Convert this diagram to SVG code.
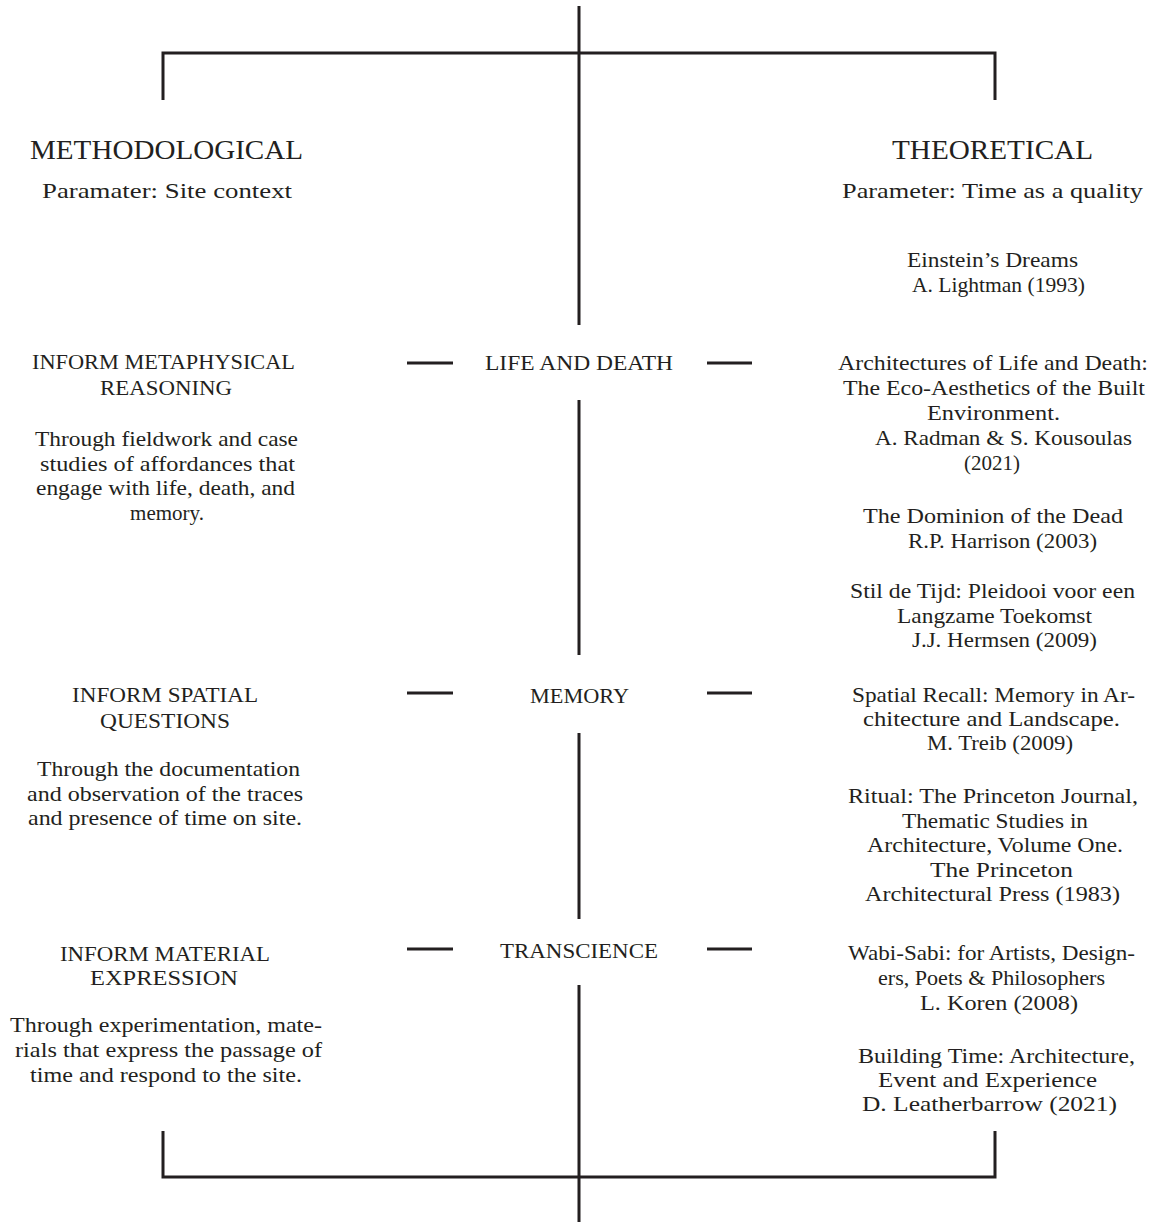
<svg xmlns="http://www.w3.org/2000/svg" width="1159" height="1222" viewBox="0 0 1159 1222">
<style>
  text { font-family: "Liberation Serif", "DejaVu Serif", serif; fill: #231f20; }
  .h { font-size: 27px; }
  .p { font-size: 22px; }
  .c { font-size: 20px; }
  .b { font-size: 21px; }
  .m { text-anchor: middle; }
  .ln { stroke: #231f20; stroke-width: 3; fill: none; stroke-linecap: butt; }
</style>
<rect width="1159" height="1222" fill="#ffffff"/>
<g id="connectors">
  <path class="ln" d="M579 6V325M579 400V655M579 733V919M579 985V1222"/>
  <path class="ln" d="M163 100V53H995V100"/>
  <path class="ln" d="M163 1131V1177H995V1131"/>
  <path class="ln" d="M407 363H453M707 363H752M407 693H453M707 693H752M407 949H453M707 949H752"/>
</g>
<g id="methodological">
  <text class="h" x="30" y="159" textLength="273" lengthAdjust="spacingAndGlyphs">METHODOLOGICAL</text>
  <text class="p" x="42" y="198" textLength="250" lengthAdjust="spacingAndGlyphs">Paramater: Site context</text>
</g>
<g id="theoretical">
  <text class="h" x="892" y="159" textLength="201" lengthAdjust="spacingAndGlyphs">THEORETICAL</text>
  <text class="p" x="842" y="198" textLength="301" lengthAdjust="spacingAndGlyphs">Parameter: Time as a quality</text>
</g>
<g id="ref-einstein">
  <text class="b" x="907" y="267" textLength="171" lengthAdjust="spacingAndGlyphs">Einstein’s Dreams</text>
  <text class="b" x="912" y="292" textLength="173" lengthAdjust="spacingAndGlyphs">A. Lightman (1993)</text>
</g>
<g id="inform-metaphysical">
  <text class="c" x="32" y="369" textLength="263" lengthAdjust="spacingAndGlyphs">INFORM METAPHYSICAL</text>
  <text class="c" x="100" y="395" textLength="132" lengthAdjust="spacingAndGlyphs">REASONING</text>
  <text class="b" x="35" y="446" textLength="263" lengthAdjust="spacingAndGlyphs">Through fieldwork and case</text>
  <text class="b" x="40" y="470.5" textLength="255" lengthAdjust="spacingAndGlyphs">studies of affordances that</text>
  <text class="b" x="36" y="495" textLength="259" lengthAdjust="spacingAndGlyphs">engage with life, death, and</text>
  <text class="b m" x="167" y="519.5">memory.</text>
</g>
<g id="life-and-death">
  <text class="c" x="485" y="370" textLength="188" lengthAdjust="spacingAndGlyphs">LIFE AND DEATH</text>
</g>
<g id="ref-architectures">
  <text class="b" x="838" y="370" textLength="310" lengthAdjust="spacingAndGlyphs">Architectures of Life and Death:</text>
  <text class="b" x="843" y="395" textLength="302" lengthAdjust="spacingAndGlyphs">The Eco-Aesthetics of the Built</text>
  <text class="b" x="927" y="420" textLength="133" lengthAdjust="spacingAndGlyphs">Environment.</text>
  <text class="b" x="875" y="445" textLength="257" lengthAdjust="spacingAndGlyphs">A. Radman &amp; S. Kousoulas</text>
  <text class="b m" x="992" y="470">(2021)</text>
</g>
<g id="ref-dominion">
  <text class="b" x="863" y="523" textLength="260" lengthAdjust="spacingAndGlyphs">The Dominion of the Dead</text>
  <text class="b" x="908" y="547.5" textLength="189" lengthAdjust="spacingAndGlyphs">R.P. Harrison (2003)</text>
</g>
<g id="ref-stil">
  <text class="b" x="850" y="598" textLength="285" lengthAdjust="spacingAndGlyphs">Stil de Tijd: Pleidooi voor een</text>
  <text class="b" x="897" y="622.5" textLength="195" lengthAdjust="spacingAndGlyphs">Langzame Toekomst</text>
  <text class="b" x="912" y="647" textLength="185" lengthAdjust="spacingAndGlyphs">J.J. Hermsen (2009)</text>
</g>
<g id="inform-spatial">
  <text class="c" x="72" y="702" textLength="186" lengthAdjust="spacingAndGlyphs">INFORM SPATIAL</text>
  <text class="c" x="100" y="728" textLength="130" lengthAdjust="spacingAndGlyphs">QUESTIONS</text>
  <text class="b" x="37" y="776" textLength="263" lengthAdjust="spacingAndGlyphs">Through the documentation</text>
  <text class="b" x="27" y="800.5" textLength="276" lengthAdjust="spacingAndGlyphs">and observation of the traces</text>
  <text class="b" x="28" y="825" textLength="274" lengthAdjust="spacingAndGlyphs">and presence of time on site.</text>
</g>
<g id="memory">
  <text class="c" x="530" y="703" textLength="99" lengthAdjust="spacingAndGlyphs">MEMORY</text>
</g>
<g id="ref-spatial-recall">
  <text class="b" x="852" y="702" textLength="283" lengthAdjust="spacingAndGlyphs">Spatial Recall: Memory in Ar-</text>
  <text class="b" x="863" y="726" textLength="257" lengthAdjust="spacingAndGlyphs">chitecture and Landscape.</text>
  <text class="b" x="927" y="750" textLength="146" lengthAdjust="spacingAndGlyphs">M. Treib (2009)</text>
</g>
<g id="ref-ritual">
  <text class="b" x="848" y="803" textLength="290" lengthAdjust="spacingAndGlyphs">Ritual: The Princeton Journal,</text>
  <text class="b" x="902" y="827.5" textLength="186" lengthAdjust="spacingAndGlyphs">Thematic Studies in</text>
  <text class="b" x="867" y="852" textLength="256" lengthAdjust="spacingAndGlyphs">Architecture, Volume One.</text>
  <text class="b" x="930" y="876.5" textLength="143" lengthAdjust="spacingAndGlyphs">The Princeton</text>
  <text class="b" x="865" y="901" textLength="255" lengthAdjust="spacingAndGlyphs">Architectural Press (1983)</text>
</g>
<g id="inform-material">
  <text class="c" x="60" y="961" textLength="210" lengthAdjust="spacingAndGlyphs">INFORM MATERIAL</text>
  <text class="c" x="90" y="985" textLength="148" lengthAdjust="spacingAndGlyphs">EXPRESSION</text>
  <text class="b" x="10" y="1032" textLength="312" lengthAdjust="spacingAndGlyphs">Through experimentation, mate-</text>
  <text class="b" x="15" y="1057" textLength="307" lengthAdjust="spacingAndGlyphs">rials that express the passage of</text>
  <text class="b" x="30" y="1082" textLength="272" lengthAdjust="spacingAndGlyphs">time and respond to the site.</text>
</g>
<g id="transcience">
  <text class="c" x="500" y="958" textLength="158" lengthAdjust="spacingAndGlyphs">TRANSCIENCE</text>
</g>
<g id="ref-wabi-sabi">
  <text class="b" x="848" y="960" textLength="287" lengthAdjust="spacingAndGlyphs">Wabi-Sabi: for Artists, Design-</text>
  <text class="b" x="878" y="985" textLength="227" lengthAdjust="spacingAndGlyphs">ers, Poets &amp; Philosophers</text>
  <text class="b" x="920" y="1010" textLength="158" lengthAdjust="spacingAndGlyphs">L. Koren (2008)</text>
</g>
<g id="ref-building-time">
  <text class="b" x="858" y="1063" textLength="277" lengthAdjust="spacingAndGlyphs">Building Time: Architecture,</text>
  <text class="b" x="878" y="1087" textLength="219" lengthAdjust="spacingAndGlyphs">Event and Experience</text>
  <text class="b" x="862" y="1111" textLength="255" lengthAdjust="spacingAndGlyphs">D. Leatherbarrow (2021)</text>
</g>
</svg>
